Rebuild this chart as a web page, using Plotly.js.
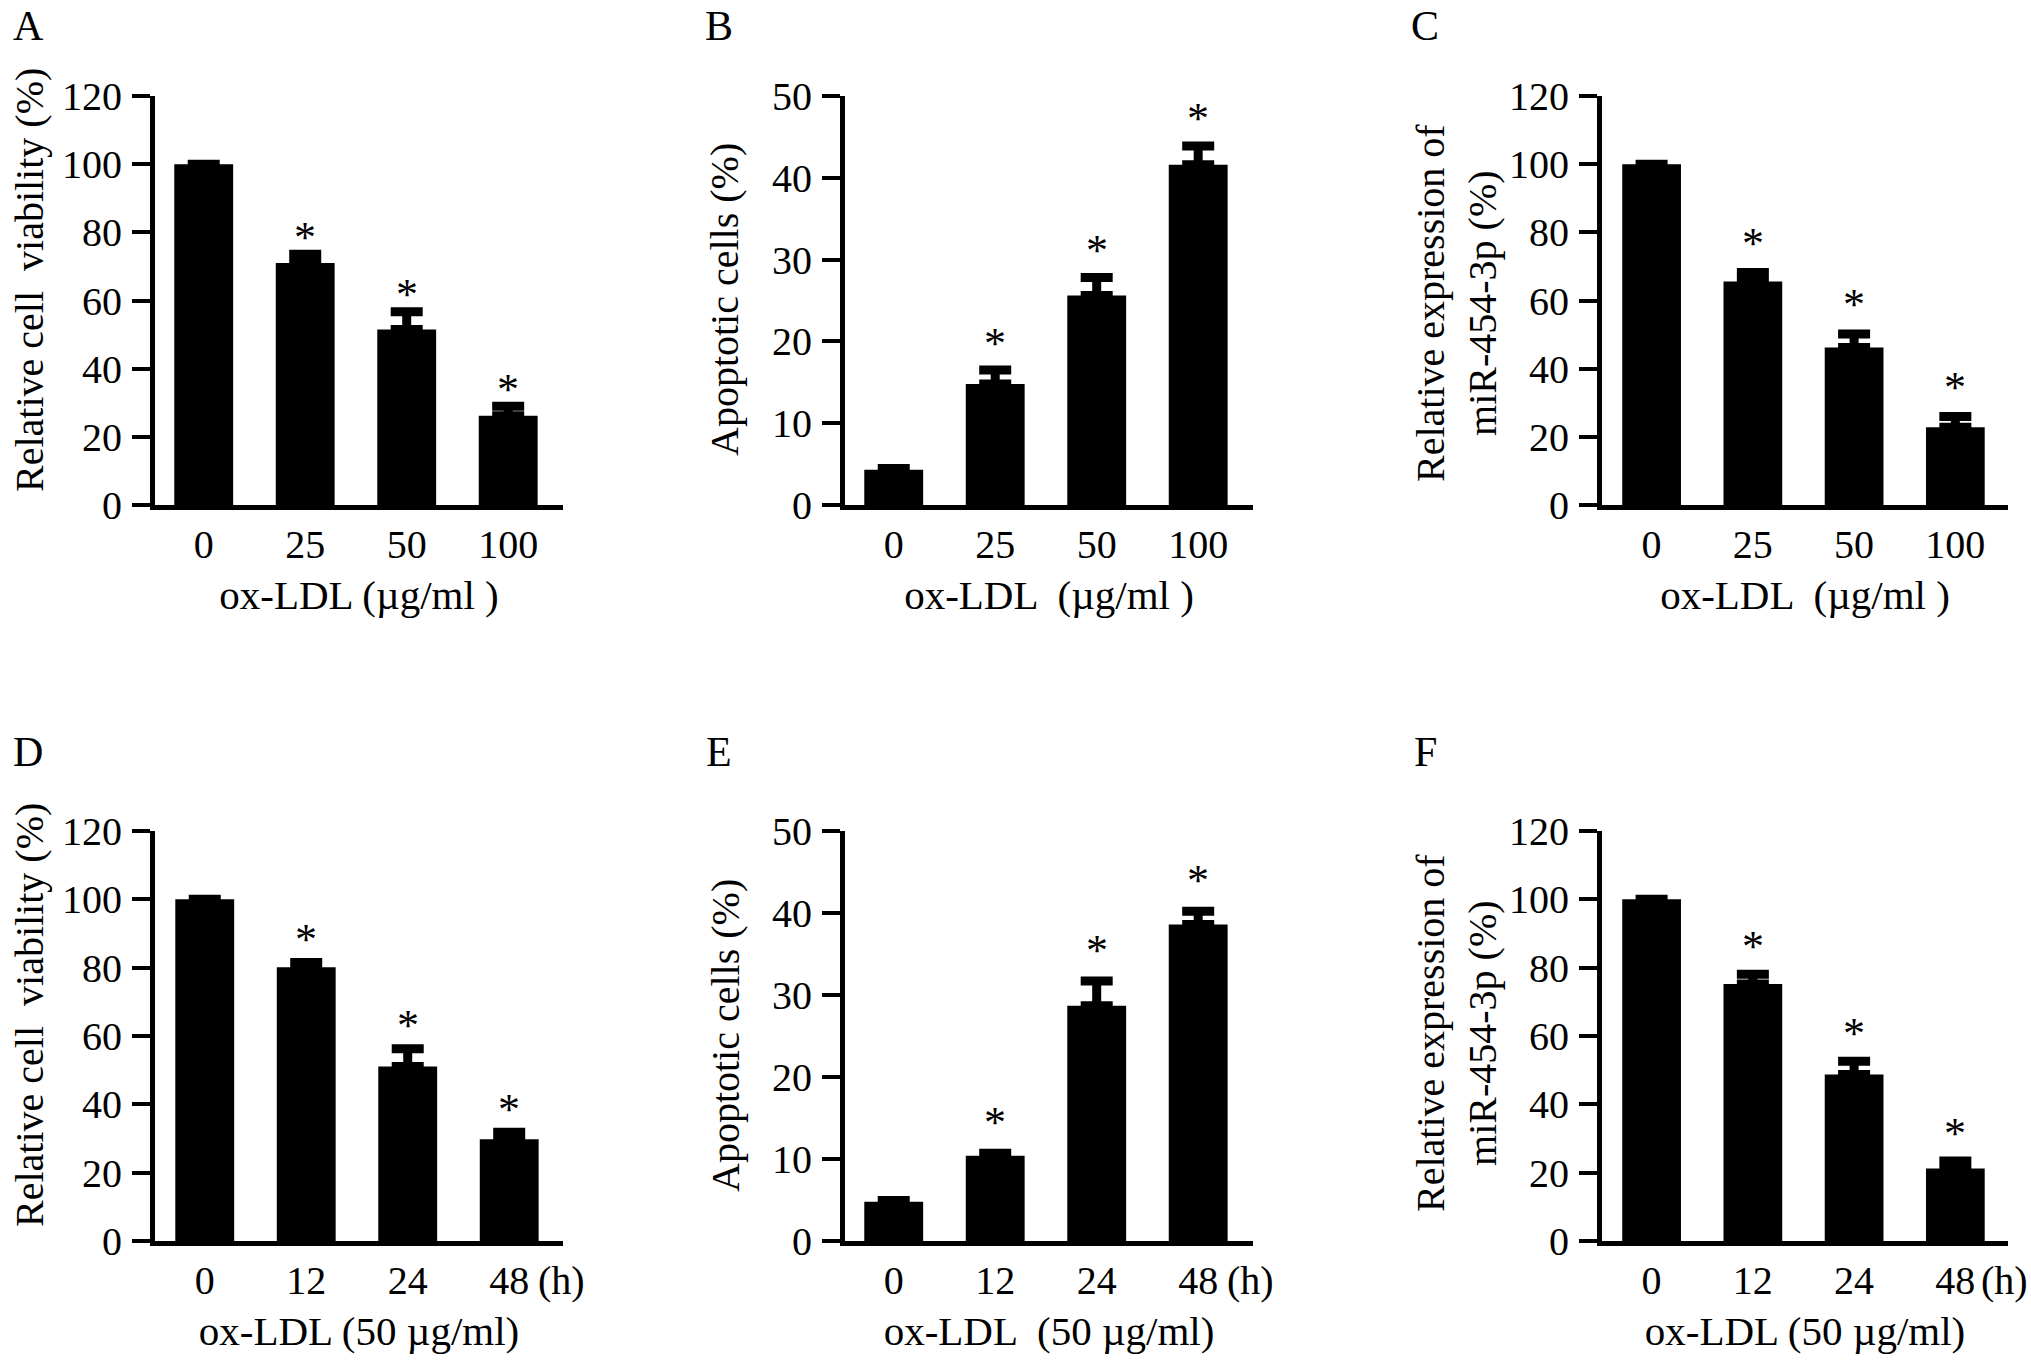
<!DOCTYPE html>
<html>
<head>
<meta charset="utf-8">
<script src="https://cdn.plot.ly/plotly-3.0.1.min.js"></script>
<style>
  html, body { margin: 0; padding: 0; background: #fff; }
  #plot { width: 2031px; height: 1372px; }
</style>
</head>
<body>
<div id="plot"></div>
<script>
// categories
const doseCats = ["0", "25", "50", "100"];
const timeCats = ["0", "12", "24", "48"];

// A: viability vs dose
const viabDose = [100, 71, 51.5, 26.2];
const viabDoseErr = [0, 2.6, 5.2, 2.8];
// B: apoptosis vs dose
const apopDose = [4.3, 14.8, 25.6, 41.6];
const apopDoseErr = [0.15, 1.7, 2.2, 2.3];
// C: miR-454-3p vs dose
const mirDose = [100, 65.6, 46.2, 22.8];
const mirDoseErr = [0, 2.6, 4.0, 3.2];
// D: viability vs time
const viabTime = [100, 80.1, 51.1, 29.8];
const viabTimeErr = [0, 1.4, 5.2, 2.0];
// E: apoptosis vs time
const apopTime = [4.8, 10.4, 28.7, 38.6];
const apopTimeErr = [0.15, 0.3, 3.0, 1.6];
// F: miR-454-3p vs time
const mirTime = [100, 75.2, 48.7, 21.2];
const mirTimeErr = [0, 2.9, 3.9, 2.2];

const signif = [false, true, true, true];

const W = 2031, H = 1372;
const FONT = "Liberation Serif, Times New Roman, serif";

// axis box in pixels: [axisLeft, axisRight, top, bottom]; label and y-title centres in pixels
const panels = [
  { letter: "A", lab: [28, 26], cats: doseCats, y: viabDose, err: viabDoseErr, ymax: 120, dtick: 20,
    box: [155, 563, 96, 505], xr: [-0.48, 3.54], ytitle: "Relative cell  viability (%)", yt: [29, 280],
    xtitle: "ox-LDL (\u00b5g/ml )", hours: 0, star: 17 },
  { letter: "B", lab: [719, 26], cats: doseCats, y: apopDose, err: apopDoseErr, ymax: 50, dtick: 10,
    box: [845, 1253, 96, 505], xr: [-0.48, 3.54], ytitle: "Apoptotic cells (%)", yt: [724, 300],
    xtitle: "ox-LDL  (\u00b5g/ml )", hours: 0, star: 27 },
  { letter: "C", lab: [1425, 26], cats: doseCats, y: mirDose, err: mirDoseErr, ymax: 120, dtick: 20,
    box: [1602, 2008, 96, 505], xr: [-0.49, 3.52], ytitle: "Relative expression of<br>miR-454-3p (%)", yt: [1456, 303],
    xtitle: "ox-LDL  (\u00b5g/ml )", hours: 0, star: 29 },
  { letter: "D", lab: [28, 752], cats: timeCats, y: viabTime, err: viabTimeErr, ymax: 120, dtick: 20,
    box: [155, 563, 831, 1241], xr: [-0.49, 3.53], ytitle: "Relative cell  viability (%)", yt: [29, 1015],
    xtitle: "ox-LDL (50 \u00b5g/ml)", hours: 52, star: 23 },
  { letter: "E", lab: [719, 752], cats: timeCats, y: apopTime, err: apopTimeErr, ymax: 50, dtick: 10,
    box: [845, 1253, 831, 1241], xr: [-0.48, 3.54], ytitle: "Apoptotic cells (%)", yt: [725, 1036],
    xtitle: "ox-LDL  (50 \u00b5g/ml)", hours: 52, star: 31 },
  { letter: "F", lab: [1425, 752], cats: timeCats, y: mirTime, err: mirTimeErr, ymax: 120, dtick: 20,
    box: [1602, 2008, 831, 1241], xr: [-0.49, 3.52], ytitle: "Relative expression of<br>miR-454-3p (%)", yt: [1456, 1033],
    xtitle: "ox-LDL (50 \u00b5g/ml)", hours: 49, star: 28 }
];

const data = [];
const layout = {
  width: W, height: H,
  margin: { l: 0, r: 0, t: 0, b: 0 },
  paper_bgcolor: "#fff",
  plot_bgcolor: "#fff",
  showlegend: false,
  font: { family: FONT, color: "#000", size: 38 },
  annotations: []
};

panels.forEach((p, i) => {
  const n = i + 1;
  const xa = n === 1 ? "x" : "x" + n;
  const ya = n === 1 ? "y" : "y" + n;
  const xKey = "xaxis" + (n === 1 ? "" : n), yKey = "yaxis" + (n === 1 ? "" : n);

  data.push({
    type: "bar",
    x: p.cats, y: p.y,
    xaxis: xa, yaxis: ya,
    width: 0.58,
    marker: { color: "#000", line: { width: 0 } },
    error_y: { type: "data", symmetric: false,
               array: p.err.map(e => (e > 0 ? e : NaN)),
               arrayminus: p.err.map(() => 0),
               color: "#000", thickness: 9, width: 16 },
    hoverinfo: "skip"
  });

  const [l, r, t, b] = p.box;
  layout[xKey] = {
    domain: [l / W, r / W],
    anchor: ya,
    type: "category",
    range: p.xr,
    showline: true, linecolor: "#000", linewidth: 5,
    ticks: "", showgrid: false, zeroline: false,
    ticklabelstandoff: 0,
    tickfont: { family: FONT, size: 40, color: "#000" },
    title: { text: p.xtitle, font: { family: FONT, size: 41, color: "#000" }, standoff: 16 },
    fixedrange: true
  };
  layout[yKey] = {
    domain: [1 - b / H, 1 - t / H],
    anchor: xa,
    range: [0, p.ymax],
    dtick: p.dtick, tick0: 0,
    showline: true, linecolor: "#000", linewidth: 5,
    ticks: "outside", ticklen: 18, tickwidth: 4, tickcolor: "#000",
    showgrid: false, zeroline: false,
    ticklabelstandoff: 2,
    tickfont: { family: FONT, size: 40, color: "#000" },
    fixedrange: true
  };

  // y title
  layout.annotations.push({
    xref: "paper", yref: "paper", x: p.yt[0] / W, y: 1 - p.yt[1] / H,
    text: p.ytitle, textangle: -90, showarrow: false,
    xanchor: "center", yanchor: "middle", align: "center",
    font: { family: FONT, size: 40, color: "#000" }
  });

  // significance asterisks above the error bars (x given as category index)
  p.y.forEach((v, k) => {
    if (!signif[k]) return;
    layout.annotations.push({
      xref: xa, yref: ya, x: k, y: v + p.err[k],
      text: "*", showarrow: false, xanchor: "center", yanchor: "middle", yshift: p.star,
      font: { family: FONT, size: 44, color: "#000" }
    });
  });

  // panel letter
  layout.annotations.push({
    xref: "paper", yref: "paper",
    x: p.lab[0] / W, y: 1 - p.lab[1] / H,
    text: p.letter, showarrow: false, xanchor: "center", yanchor: "middle",
    font: { family: FONT, size: 42, color: "#000" }
  });

  // "(h)" unit after the last time point
  if (p.hours) {
    layout.annotations.push({
      xref: xa, yref: ya + " domain", x: 3, y: 0,
      text: "(h)", showarrow: false, xanchor: "center", yanchor: "middle",
      xshift: p.hours, yshift: -39,
      font: { family: FONT, size: 40, color: "#000" }
    });
  }
});

Plotly.newPlot("plot", data, layout, { staticPlot: true, displayModeBar: false });
</script>
</body>
</html>
